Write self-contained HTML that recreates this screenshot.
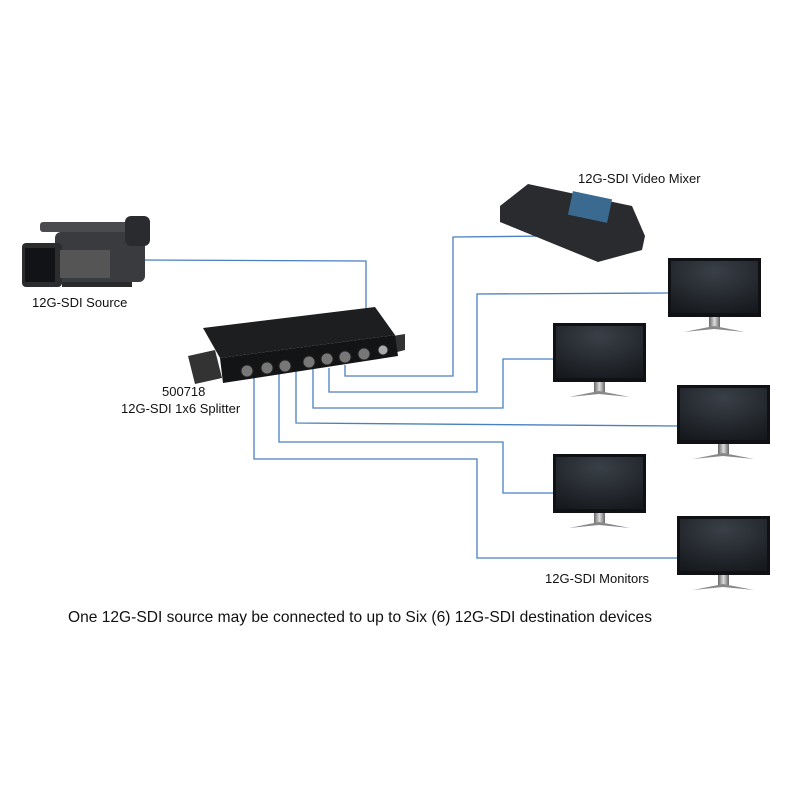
<!DOCTYPE html>
<html><head><meta charset="utf-8"><style>
body{margin:0;background:#fff}
svg{display:block}
text{font-family:"Liberation Sans",sans-serif;fill:#111}
</style></head><body>
<svg width="800" height="800" viewBox="0 0 800 800">
<defs>
<radialGradient id="scr" cx="0.5" cy="0.2" r="0.9"><stop offset="0" stop-color="#3a4048"/><stop offset="1" stop-color="#15181c"/></radialGradient>
<linearGradient id="st" x1="0" x2="1"><stop offset="0" stop-color="#666"/><stop offset="0.5" stop-color="#ddd"/><stop offset="1" stop-color="#666"/></linearGradient>
<g id="mon">
<rect x="0" y="0" width="93" height="59" fill="#0f1114"/>
<rect x="3" y="3" width="87" height="52" fill="url(#scr)"/>
<rect x="41" y="59" width="11" height="10" fill="url(#st)"/>
<path d="M16 74 L46 68 L77 74 L46 71 Z" fill="#888"/>
</g>
</defs>
<g fill="none" stroke="#4a7fc0" stroke-width="1.3">
<polyline points="140,260 366,261 366,355"/>
<polyline points="345,365 345,376 453,376 453,237 550,236"/>
<polyline points="329,368 329,392 477,392 477,294 668,293"/>
<polyline points="313,368 313,408 503,408 503,359 553,359"/>
<polyline points="296,368 296,423 677,426"/>
<polyline points="279,370 279,442 503,442 503,493 553,493"/>
<polyline points="254,370 254,459 477,459 477,558 677,558"/>
</g>
<g>
<rect x="55" y="232" width="90" height="50" rx="6" fill="#3a3b3e"/>
<rect x="40" y="222" width="110" height="10" rx="3" fill="#4a4b4e"/>
<rect x="125" y="216" width="25" height="30" rx="6" fill="#2a2b2e"/>
<rect x="22" y="243" width="40" height="44" rx="4" fill="#2b2c2e"/>
<rect x="25" y="248" width="30" height="34" fill="#121316"/>
<rect x="60" y="250" width="50" height="28" fill="#555"/>
<rect x="62" y="282" width="70" height="5" fill="#2a2a2a"/>
</g>
<g>
<polygon points="188,356 215,350 222,378 195,384" fill="#333"/>
<polygon points="380,338 405,334 405,350 382,356" fill="#333"/>
<polygon points="203,328 375,307 395,335 220,358" fill="#1d1e20"/>
<polygon points="220,358 395,335 398,356 223,383" fill="#131416"/>
<g fill="#777" stroke="#222" stroke-width="1">
<circle cx="247" cy="371" r="6"/><circle cx="267" cy="368" r="6"/><circle cx="285" cy="366" r="6"/>
<circle cx="309" cy="362" r="6"/><circle cx="327" cy="359" r="6"/><circle cx="345" cy="357" r="6"/><circle cx="364" cy="354" r="6"/>
<circle cx="383" cy="350" r="5" fill="#aaa"/>
</g>
</g>
<polygon points="500,206 528,184 632,206 645,236 642,250 598,262 500,222" fill="#2a2b2e"/>
<rect x="570" y="195" width="40" height="24" fill="#3a6a90" transform="rotate(12 590 207)"/>
<use href="#mon" x="668" y="258"/>
<use href="#mon" x="553" y="323"/>
<use href="#mon" x="677" y="385"/>
<use href="#mon" x="553" y="454"/>
<use href="#mon" x="677" y="516"/>
<g font-size="13">
<text x="32" y="307">12G-SDI Source</text>
<text x="162" y="396">500718</text>
<text x="121" y="413">12G-SDI 1x6 Splitter</text>
<text x="578" y="183">12G-SDI Video Mixer</text>
<text x="545" y="583">12G-SDI Monitors</text>
</g>
<text x="68" y="622" font-size="16" textLength="584" lengthAdjust="spacingAndGlyphs">One 12G-SDI source may be connected to up to Six (6) 12G-SDI destination devices</text>
</svg>
</body></html>
